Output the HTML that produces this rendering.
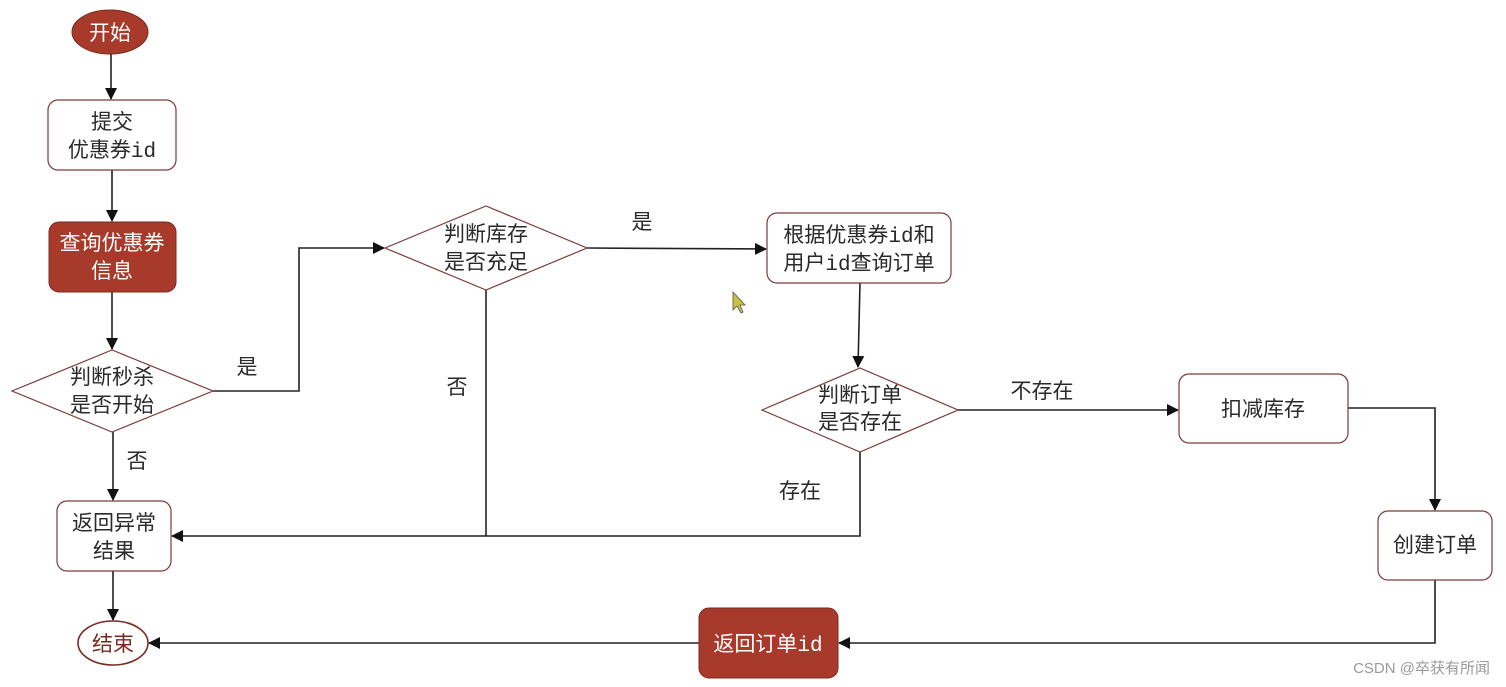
<!DOCTYPE html>
<html><head><meta charset="utf-8"><style>
html,body{margin:0;padding:0;background:#fff;}
svg{display:block;}
text{font-family:"Liberation Mono","Noto Sans CJK SC",monospace;font-size:21px;fill:#2a2a2a;}
.w{fill:#fff;}
</style></head><body>
<svg width="1506" height="687" viewBox="0 0 1506 687" xmlns="http://www.w3.org/2000/svg">
<defs><marker id="a" markerWidth="12" markerHeight="12" refX="11" refY="6" orient="auto" markerUnits="userSpaceOnUse"><path d="M0,0 L12,6 L0,12 Z" fill="#111"/></marker></defs>
<g stroke="#222" stroke-width="1.6" fill="none">
<line x1="111" y1="54" x2="111" y2="99" marker-end="url(#a)"/>
<line x1="112" y1="170" x2="112" y2="221" marker-end="url(#a)"/>
<line x1="112" y1="292" x2="112" y2="349" marker-end="url(#a)"/>
<polyline points="213,391 299,391 299,248 384,248" marker-end="url(#a)"/>
<line x1="113" y1="432" x2="113" y2="500" marker-end="url(#a)"/>
<line x1="113" y1="571" x2="113" y2="620" marker-end="url(#a)"/>
<line x1="486" y1="290" x2="486" y2="536"/>
<polyline points="860,452 860,536 172,536" marker-end="url(#a)"/>
<line x1="587" y1="248" x2="766" y2="249" marker-end="url(#a)"/>
<line x1="860" y1="283" x2="858" y2="367" marker-end="url(#a)"/>
<line x1="958" y1="410" x2="1178" y2="410" marker-end="url(#a)"/>
<polyline points="1348,408 1435,408 1435,510" marker-end="url(#a)"/>
<polyline points="1435,580 1435,643 839,643" marker-end="url(#a)"/>
<line x1="699" y1="643" x2="149" y2="643" marker-end="url(#a)"/>
</g>
<ellipse cx="110" cy="32" rx="38" ry="22" fill="#a83a2c" stroke="#7a2a20"/>
<text x="110" y="40" text-anchor="middle" class="w">开始</text>
<rect x="48" y="100" width="128" height="70" rx="10" fill="#fff" stroke="#7a3a3a" stroke-width="1.2"/>
<text x="112" y="129" text-anchor="middle">提交</text>
<text x="112" y="157" text-anchor="middle">优惠券id</text>
<rect x="49" y="222" width="127" height="70" rx="10" fill="#a83a2c" stroke="#7a2a20"/>
<text x="112" y="250" text-anchor="middle" class="w">查询优惠券</text>
<text x="112" y="278" text-anchor="middle" class="w">信息</text>
<polygon points="12,391 112,350 213,391 112,432" fill="#fff" stroke="#7a3a3a" stroke-width="1.2"/>
<text x="112" y="384" text-anchor="middle">判断秒杀</text>
<text x="112" y="412" text-anchor="middle">是否开始</text>
<text x="247" y="374" text-anchor="middle">是</text>
<text x="137" y="468" text-anchor="middle">否</text>
<rect x="57" y="501" width="114" height="70" rx="10" fill="#fff" stroke="#7a3a3a" stroke-width="1.2"/>
<text x="114" y="530" text-anchor="middle">返回异常</text>
<text x="114" y="558" text-anchor="middle">结果</text>
<ellipse cx="113" cy="643" rx="35" ry="22" fill="#fff" stroke="#7a2a20" stroke-width="1.6"/>
<text x="113" y="651" text-anchor="middle" style="fill:#7a2a20">结束</text>
<polygon points="385,248 486,206 587,248 486,290" fill="#fff" stroke="#7a3a3a" stroke-width="1.2"/>
<text x="486" y="241" text-anchor="middle">判断库存</text>
<text x="486" y="269" text-anchor="middle">是否充足</text>
<text x="642" y="229" text-anchor="middle">是</text>
<text x="457" y="394" text-anchor="middle">否</text>
<rect x="767" y="213" width="184" height="70" rx="10" fill="#fff" stroke="#7a3a3a" stroke-width="1.2"/>
<text x="859" y="242" text-anchor="middle">根据优惠券id和</text>
<text x="859" y="270" text-anchor="middle">用户id查询订单</text>
<polygon points="733,292 733,310 737,306 741,313 743,312 740,305 745,305" fill="#c8c040" stroke="#555" stroke-width="0.8"/>
<polygon points="762,410 860,368 958,410 860,452" fill="#fff" stroke="#7a3a3a" stroke-width="1.2"/>
<text x="860" y="402" text-anchor="middle">判断订单</text>
<text x="860" y="429" text-anchor="middle">是否存在</text>
<text x="1042" y="398" text-anchor="middle">不存在</text>
<text x="800" y="498" text-anchor="middle">存在</text>
<rect x="1179" y="374" width="169" height="69" rx="10" fill="#fff" stroke="#7a3a3a" stroke-width="1.2"/>
<text x="1263" y="416" text-anchor="middle">扣减库存</text>
<rect x="1378" y="511" width="114" height="69" rx="10" fill="#fff" stroke="#7a3a3a" stroke-width="1.2"/>
<text x="1435" y="552" text-anchor="middle">创建订单</text>
<rect x="699" y="608" width="139" height="70" rx="10" fill="#a83a2c" stroke="#7a2a20"/>
<text x="768" y="651" text-anchor="middle" class="w">返回订单id</text>
<text x="1490" y="673" text-anchor="end" style="font-family:'Liberation Sans','Noto Sans CJK SC',sans-serif;font-size:15px;fill:#999">CSDN @卒获有所闻</text>
</svg>
</body></html>
